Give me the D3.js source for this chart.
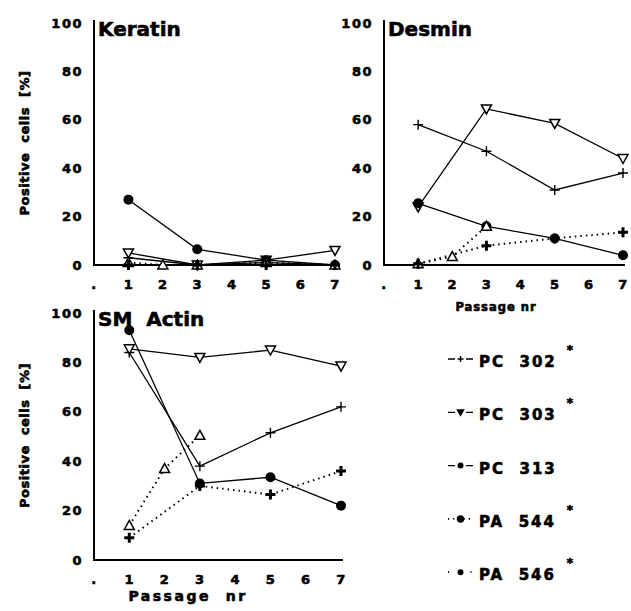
<!DOCTYPE html>
<html>
<head>
<meta charset="utf-8">
<script src="https://cdn.jsdelivr.net/npm/d3@7"></script>
<style>
    body { margin: 0; background: #fff; }
    text { font-family: "DejaVu Sans", sans-serif; font-weight: bold; fill: #000; white-space: pre;
           stroke: #000; stroke-width: 0.6px; }
</style>
</head>
<body>
<svg id="chart" width="631" height="611"></svg>
<script>

// data, [passage, % positive cells]
var seriesNames = ['PC  302', 'PC  303', 'PC  313', 'PA  544', 'PA  546'];
var seriesStar = [true, true, false, true, true];
var xTickLabels = ['.', '1', '2', '3', '4', '5', '6', '7'];
var yTicks = [0, 20, 40, 60, 80, 100];

var keratin = [
    [[1, 3], [3, 0], [5, 1], [7, 0]],
    [[1, 5], [3, 0], [5, 2], [7, 6]],
    [[1, 27], [3, 6.5], [5, 2], [7, 0]],
    [[1, 1], [2, 0], [3, 0], [5, 1], [7, 0]],
    [[1, 0], [3, 0], [5, 0], [7, 0]]
];

var desmin = [
    [[1, 58], [3, 47], [5, 31], [7, 38]],
    [[1, 24], [3, 64.5], [5, 58.5], [7, 44]],
    [[1, 25.5], [3, 16], [5, 11], [7, 4]],
    [[1, 0.5], [2, 3.5], [3, 16]],
    [[1, 0.5], [3, 8], [5, 11], [7, 13.5]]
];

var smActin = [
    [[1, 84], [3, 38], [5, 51.5], [7, 62]],
    [[1, 85.5], [3, 82], [5, 85], [7, 78.5]],
    [[1, 93], [3, 31], [5, 33.5], [7, 22]],
    [[1, 14], [2, 37], [3, 50.5]],
    [[1, 9], [3, 30], [5, 26.5], [7, 36]]
];

// line + marker style per series
var dashed = [false, false, false, true, true];
var markers = ['plus', 'triDown', 'dot', 'triUp', 'boldPlus'];

var svg = d3.select('#chart');


function marker(g, kind, x, y, s) {
    // s = scale factor, 1 for the plots
    var m;
    if (kind == 'dot') {
        m = g.append('circle').attr('cx', x).attr('cy', y).attr('r', 5 * s).attr('fill', '#000');
    } else if (kind == 'plus' || kind == 'boldPlus') {
        var h = 5 * s;
        m = g.append('path')
            .attr('d', 'M' + (x - h) + ',' + y + 'H' + (x + h) + 'M' + x + ',' + (y - h) + 'V' + (y + h))
            .attr('stroke', '#000')
            .attr('stroke-width', kind == 'plus' ? 1.4 : 3);
    } else if (kind == 'triDown') {
        m = g.append('path')
            .attr('d', d3.line()([[x - 5 * s, y - 4 * s], [x + 5 * s, y - 4 * s], [x, y + 5 * s]]) + 'Z')
            .attr('fill', s < 1 ? '#000' : '#fff')
            .attr('stroke', '#000')
            .attr('stroke-width', 1.5);
    } else if (kind == 'triUp') {
        m = g.append('path')
            .attr('d', d3.line()([[x, y - 5 * s], [x + 5 * s, y + 4 * s], [x - 5 * s, y + 4 * s]]) + 'Z')
            .attr('fill', '#fff')
            .attr('stroke', '#000')
            .attr('stroke-width', 1.5);
    }
    return m;
}


function panel(opts) {
    var x = d3.scaleLinear().domain([0, 7]).range(opts.xr);
    var y = d3.scaleLinear().domain([0, 100]).range(opts.yr);
    var g = svg.append('g');

    // axes
    var xa = g.append('g')
        .attr('transform', 'translate(0,' + opts.yr[0] + ')')
        .call(d3.axisBottom(x)
            .tickValues(d3.range(8))
            .tickFormat(function(d){ return xTickLabels[d]; })
            .tickSize(0).tickPadding(15));
    var ya = g.append('g')
        .attr('transform', 'translate(' + opts.xr[0] + ',0)')
        .call(d3.axisLeft(y).tickValues(yTicks).tickSize(0).tickPadding(11));

    [xa, ya].forEach(function(a){
        a.select('.domain').attr('stroke', '#000').attr('stroke-width', 2);
        a.selectAll('text')
            .style('font-family', '"DejaVu Sans", sans-serif')
            .style('font-weight', 'bold')
            .style('font-size', '13px')
            .style('letter-spacing', '1.5px')
            .attr('fill', '#000');
    });
    xa.select('.domain').attr('d', 'M' + (opts.xr[0] - 1) + ',0H' + (opts.xr[1] + 2));
    ya.select('.domain').attr('d', 'M0,' + (opts.yr[1] - 3) + 'V' + (opts.yr[0] + 1));

    // title
    g.append('text')
        .attr('x', opts.xr[0] + 4)
        .attr('y', opts.yr[1] + 13)
        .style('font-size', '20px')
        .text(opts.title);

    if (opts.yLabel) {
        g.append('text')
            .attr('transform', 'translate(29,' + ((opts.yr[0] + opts.yr[1]) / 2 - 1) + ') rotate(-90)')
            .attr('text-anchor', 'middle')
            .style('font-size', '13px')
            .style('letter-spacing', '0.5px')
            .text('Positive  cells  [%]');
    }
    if (opts.xLabel) {
        g.append('text')
            .attr('x', opts.xLabel[0])
            .attr('y', opts.xLabel[1])
            .attr('text-anchor', 'middle')
            .style('font-size', opts.xLabel[2] + 'px')
            .style('letter-spacing', opts.xLabel[3] + 'px')
            .text(opts.xLabel[4]);
    }

    var line = d3.line()
        .x(function(d){ return x(d[0]); })
        .y(function(d){ return y(d[1]); });

    opts.data.forEach(function(s, i){
        g.append('path')
            .attr('d', line(s))
            .attr('fill', 'none')
            .attr('stroke', '#000')
            .attr('stroke-width', dashed[i] ? 2 : 1.3)
            .attr('stroke-dasharray', dashed[i] ? '1.5,4' : null);
    });
    opts.data.forEach(function(s, i){
        s.forEach(function(d){
            marker(g, markers[i], x(d[0]), y(d[1]), 1);
        });
    });
}

panel({title: 'Keratin', data: keratin, xr: [94, 335], yr: [265, 23], yLabel: true});
panel({title: 'Desmin', data: desmin, xr: [384, 623], yr: [265, 23],
       xLabel: [496, 311, 11.5, 1, 'Passage nr']});
panel({title: 'SM  Actin', data: smActin, xr: [94, 341], yr: [560, 313], yLabel: true,
       xLabel: [188, 601, 14, 2.5, 'Passage  nr']});


// legend
var lg = svg.append('g');
seriesNames.forEach(function(name, i){
    var base = 367 + i * 53.3;
    var cy = base - 8;
    lg.append('line')
        .attr('x1', 448).attr('x2', 473)
        .attr('y1', cy).attr('y2', cy)
        .attr('stroke', '#000')
        .attr('stroke-width', dashed[i] ? 1.8 : 1.3)
        .attr('stroke-dasharray', dashed[i] ? (i == 3 ? '1.2,4' : '1.2,10') : '7,11');
    var kind = ['plus', 'triDown', 'dot', 'dot', 'dot'][i];
    marker(lg, kind, 460.5, cy, i == 3 ? 0.75 : 0.6);
    lg.append('text')
        .attr('x', 479)
        .attr('y', base)
        .style('font-size', '15px')
        .style('letter-spacing', '2px')
        .text(name);
    if (seriesStar[i]) {
        lg.append('text')
            .attr('x', 570)
            .attr('y', base - 13)
            .attr('text-anchor', 'middle')
            .style('font-size', '12px')
            .text('*');
    }
});

</script>
</body>
</html>
